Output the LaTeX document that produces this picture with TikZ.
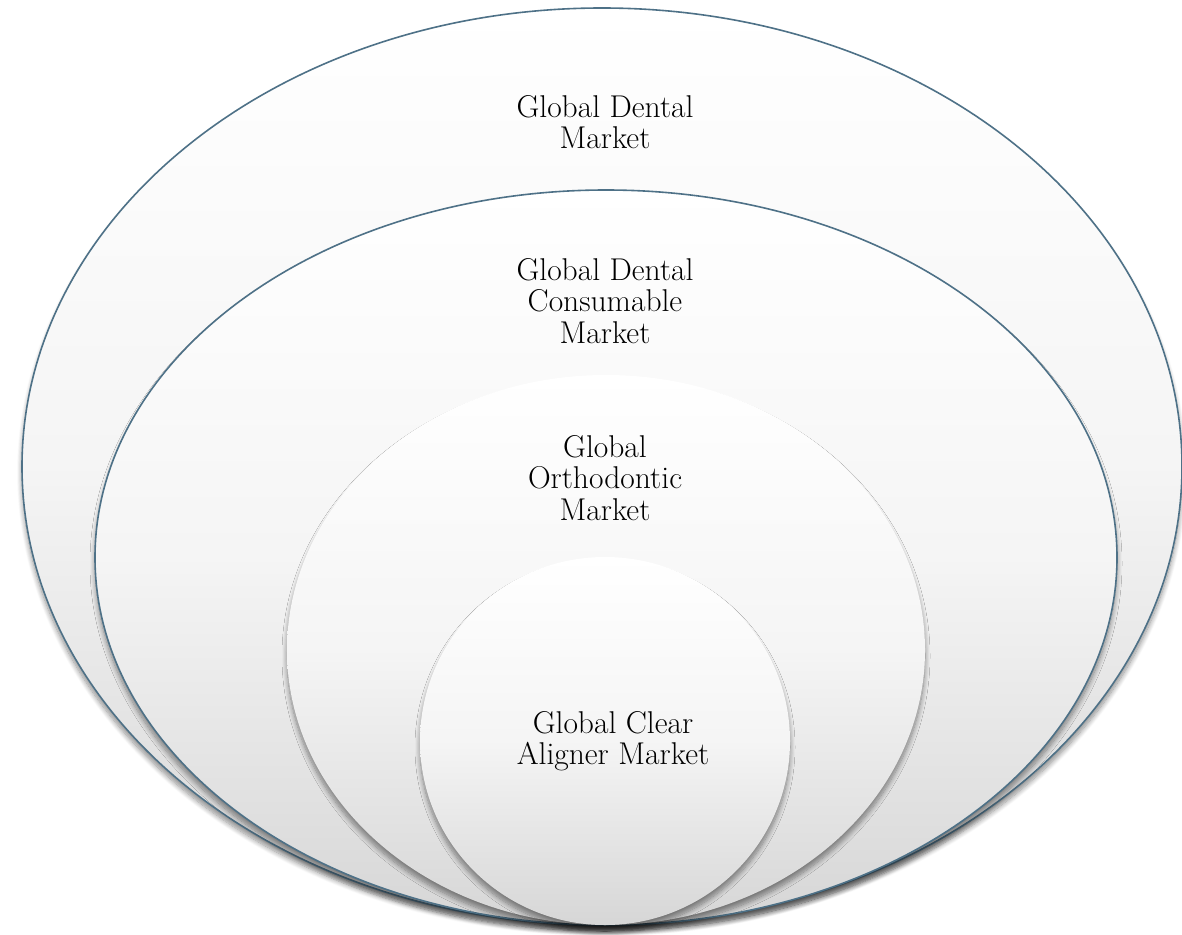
\documentclass[tikz,border=0pt]{standalone}
\usetikzlibrary{shadows.blur}
\definecolor{rim}{HTML}{4E7187}
\tikzset{
  disc/.style={top color=white, bottom color=black!16, middle color=black!4, shading angle=0},
  rimline/.style={draw=rim, line width=1.6pt},
  shade/.style={blur shadow={shadow xshift=0pt, shadow yshift=-6pt, shadow blur radius=5pt, shadow blur steps=10, shadow opacity=45}},
  lbl/.style={align=center, font=\fontsize{31.5}{31.5}\selectfont, text=black}
}
\begin{document}
\begin{tikzpicture}[x=1pt,y=-1pt]
\useasboundingbox (0,0) rectangle (1182,934);
\path[disc, rimline, shade] (602,466.5) ellipse [x radius=580, y radius=458.5];
\path[disc, rimline, shade] (606,557.5) ellipse [x radius=511, y radius=367.5];
\path[disc, shade] (606,650) ellipse [x radius=319, y radius=275];
\path[disc, shade] (605,741) ellipse [x radius=185, y radius=184];
\node[lbl] (t1) at (605,122) {Global Dental\\Market};
\node[lbl] (t2) at (605,301) {Global Dental\\Consumable\\Market};
\node[lbl] (t3) at (605,478) {Global\\Orthodontic\\Market};
\node[lbl] (t4) at (613,741) {Global Clear\\Aligner Market};
\end{tikzpicture}
\end{document}
